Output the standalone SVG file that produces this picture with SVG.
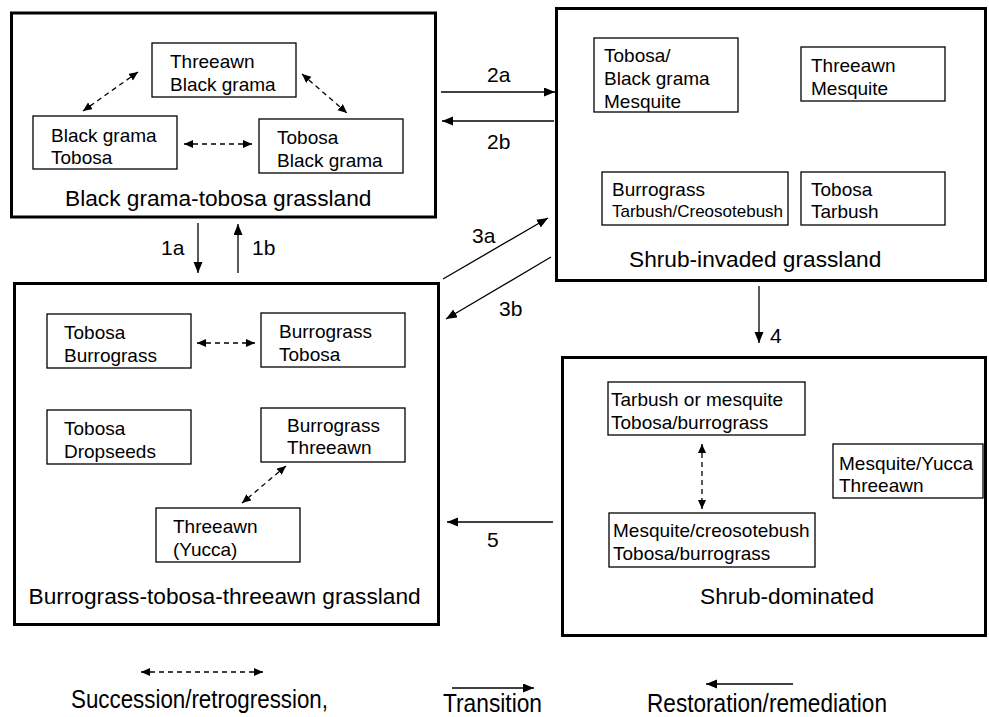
<svg xmlns="http://www.w3.org/2000/svg" width="989" height="717" viewBox="0 0 989 717">
<defs>
<marker id="ah" markerUnits="userSpaceOnUse" markerWidth="12" markerHeight="10" refX="11" refY="4.5" orient="auto-start-reverse" viewBox="0 0 12 10">
<path d="M0,0 L11,4.5 L0,9 z" fill="#000"/>
</marker>
<marker id="dh" markerUnits="userSpaceOnUse" markerWidth="10" markerHeight="9" refX="9" refY="4" orient="auto-start-reverse" viewBox="0 0 10 9">
<path d="M0,0 L9,4 L0,8 z" fill="#000"/>
</marker>
</defs>
<style>
.state{fill:#fff;stroke:#000;stroke-width:3}
.comm{fill:#fff;stroke:#000;stroke-width:1.3}
text{font-family:"Liberation Sans",Arial,sans-serif;fill:#000}
.t{font-size:19px}
.ts{font-size:17px}
.lab{font-size:22.7px}
.num{font-size:21px}
.leg{font-family:"Liberation Sans Narrow","Liberation Sans",Arial,sans-serif;font-size:26px}
.tr{stroke:#000;stroke-width:1.3;fill:none;marker-end:url(#ah)}
.ds{stroke:#000;stroke-width:1.3;fill:none;stroke-dasharray:5 4;marker-start:url(#dh);marker-end:url(#dh)}
</style>
<rect width="989" height="717" fill="#fff"/>

<g id="state-black-grama-tobosa">
<rect class="state" x="11.5" y="13" width="424" height="204"/>
<text class="lab" x="65" y="206">Black grama-tobosa grassland</text>
</g>
<g id="c-threeawn-blackgrama">
<rect class="comm" x="152" y="43" width="144" height="54"/>
<text class="t" x="170" y="68">Threeawn</text>
<text class="t" x="170" y="91">Black grama</text>
</g>
<g id="c-blackgrama-tobosa">
<rect class="comm" x="33" y="116" width="144" height="53"/>
<text class="t" x="51" y="141.5">Black grama</text>
<text class="t" x="51" y="164">Tobosa</text>
</g>
<g id="c-tobosa-blackgrama">
<rect class="comm" x="259" y="119" width="144" height="54"/>
<text class="t" x="277" y="144">Tobosa</text>
<text class="t" x="277" y="167">Black grama</text>
</g>

<g id="state-shrub-invaded">
<rect class="state" x="556.5" y="8.5" width="429" height="272"/>
<text class="lab" x="629" y="266.5">Shrub-invaded grassland</text>
</g>
<g id="c-tobosa-bg-mesquite">
<rect class="comm" x="594" y="38" width="144" height="74"/>
<text class="t" x="604" y="61.5">Tobosa/</text>
<text class="t" x="604" y="84.5">Black grama</text>
<text class="t" x="604" y="107.5">Mesquite</text>
</g>
<g id="c-threeawn-mesquite">
<rect class="comm" x="801" y="47" width="144" height="54"/>
<text class="t" x="811" y="71.5">Threeawn</text>
<text class="t" x="811" y="95">Mesquite</text>
</g>
<g id="c-burrograss-tarbush">
<rect class="comm" x="602" y="172" width="186" height="53"/>
<text class="t" x="612" y="195.5">Burrograss</text>
<text class="ts" x="612" y="216.5">Tarbush/Creosotebush</text>
</g>
<g id="c-tobosa-tarbush">
<rect class="comm" x="801" y="172" width="144" height="53"/>
<text class="t" x="811" y="195.5">Tobosa</text>
<text class="t" x="811" y="218">Tarbush</text>
</g>

<g id="state-burrograss-tobosa-threeawn">
<rect class="state" x="14.5" y="283.5" width="424" height="341"/>
<text class="lab" x="28.5" y="604">Burrograss-tobosa-threeawn grassland</text>
</g>
<g id="c-tobosa-burrograss">
<rect class="comm" x="47" y="314" width="144" height="54"/>
<text class="t" x="64" y="339">Tobosa</text>
<text class="t" x="64" y="361.5">Burrograss</text>
</g>
<g id="c-burrograss-tobosa">
<rect class="comm" x="261" y="313" width="144" height="54"/>
<text class="t" x="279" y="338">Burrograss</text>
<text class="t" x="279" y="360.5">Tobosa</text>
</g>
<g id="c-tobosa-dropseeds">
<rect class="comm" x="47" y="410" width="144" height="54"/>
<text class="t" x="64" y="435">Tobosa</text>
<text class="t" x="64" y="457.5">Dropseeds</text>
</g>
<g id="c-burrograss-threeawn">
<rect class="comm" x="261" y="408" width="144" height="54"/>
<text class="t" x="287" y="431.5">Burrograss</text>
<text class="t" x="287" y="454">Threeawn</text>
</g>
<g id="c-threeawn-yucca">
<rect class="comm" x="156" y="508" width="144" height="54"/>
<text class="t" x="173" y="533">Threeawn</text>
<text class="t" x="173" y="556">(Yucca)</text>
</g>

<g id="state-shrub-dominated">
<rect class="state" x="562.5" y="357.5" width="423" height="278"/>
<text class="lab" x="700" y="604">Shrub-dominated</text>
</g>
<g id="c-tarbush-mesquite">
<rect class="comm" x="608" y="382" width="197" height="53"/>
<text class="t" x="611" y="406">Tarbush or mesquite</text>
<text class="t" x="611" y="428.5">Tobosa/burrograss</text>
</g>
<g id="c-mesquite-yucca">
<rect class="comm" x="833" y="444" width="150" height="54"/>
<text class="t" x="839" y="470">Mesquite/Yucca</text>
<text class="t" x="839" y="492">Threeawn</text>
</g>
<g id="c-mesquite-creosote">
<rect class="comm" x="609" y="513" width="206" height="54"/>
<text class="t" x="613" y="537">Mesquite/creosotebush</text>
<text class="t" x="613" y="560">Tobosa/burrograss</text>
</g>

<g id="connectors">
<line class="ds" x1="184" y1="144" x2="252" y2="144"/>
<line class="ds" x1="138" y1="72" x2="83" y2="111"/>
<line class="ds" x1="302" y1="74" x2="347" y2="113"/>
<line class="ds" x1="197" y1="343" x2="255" y2="343"/>
<line class="ds" x1="286" y1="466" x2="242" y2="503"/>
<line class="ds" x1="702" y1="444" x2="702" y2="509"/>
<line class="tr" x1="441" y1="92" x2="555" y2="92"/>
<line class="tr" x1="554" y1="121" x2="442" y2="121"/>
<line class="tr" x1="198" y1="223" x2="198" y2="273"/>
<line class="tr" x1="238" y1="273" x2="238" y2="224"/>
<line class="tr" x1="443" y1="279" x2="548" y2="218"/>
<line class="tr" x1="551" y1="257" x2="446" y2="319"/>
<line class="tr" x1="759" y1="286" x2="759" y2="343"/>
<line class="tr" x1="553" y1="522" x2="447" y2="522"/>
<text class="num" x="487" y="81.5">2a</text>
<text class="num" x="487" y="149">2b</text>
<text class="num" x="161" y="255">1a</text>
<text class="num" x="252" y="255">1b</text>
<text class="num" x="472" y="242.5">3a</text>
<text class="num" x="499" y="316">3b</text>
<text class="num" x="770" y="343">4</text>
<text class="num" x="487" y="547">5</text>
</g>

<g id="legend">
<line class="ds" x1="141" y1="672" x2="263" y2="672"/>
<text class="leg" x="71" y="708" textLength="257" lengthAdjust="spacingAndGlyphs">Succession/retrogression,</text>
<line class="tr" x1="452" y1="688" x2="534" y2="688"/>
<text class="leg" x="443" y="712" textLength="99" lengthAdjust="spacingAndGlyphs">Transition</text>
<line class="tr" x1="793" y1="684" x2="706" y2="684"/>
<text class="leg" x="647" y="712" textLength="240" lengthAdjust="spacingAndGlyphs">Restoration/remediation</text>
</g>
</svg>
